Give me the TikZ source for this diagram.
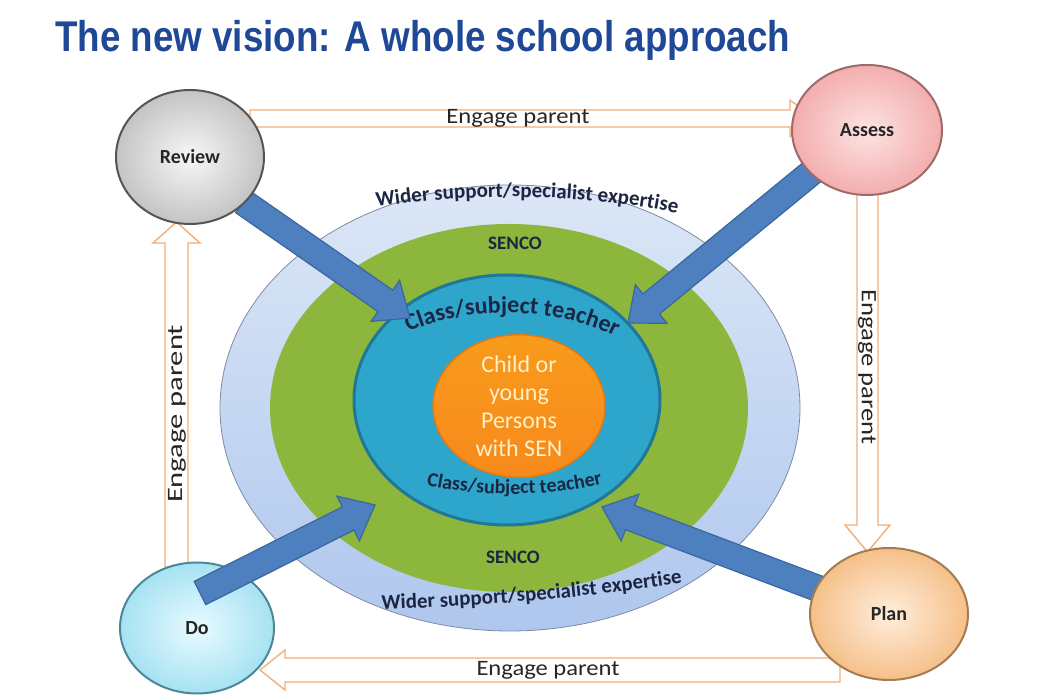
\documentclass[tikz,border=0pt]{standalone}
\usepackage{graphicx}
\usepackage{fontspec}
\setmainfont{Carlito}
\newfontfamily\titlefont{Liberation Sans}
\usetikzlibrary{calc,shapes.geometric,decorations.text}

\definecolor{titleblue}{HTML}{1F4896}
\definecolor{navy}{HTML}{1C2541}
\definecolor{hollowedge}{HTML}{F2AE78}
\definecolor{bluefill}{HTML}{4E7FBE}
\definecolor{blueedge}{HTML}{3A679E}
\definecolor{ringtop}{HTML}{DCE7F6}
\definecolor{ringbot}{HTML}{AFC7EE}
\definecolor{ringedge}{HTML}{7D8CA3}
\definecolor{greenfill}{HTML}{8CB63C}
\definecolor{tealfill}{HTML}{2EA6CB}
\definecolor{tealedge}{HTML}{1F7896}
\definecolor{orangefill}{HTML}{F7901E}
\definecolor{orangeedge}{HTML}{E27A12}
\definecolor{cream}{HTML}{FFF0C8}
\definecolor{revin}{HTML}{F7F7F7}
\definecolor{revout}{HTML}{C4C4C4}
\definecolor{revedge}{HTML}{555555}
\definecolor{assin}{HTML}{FDE3E3}
\definecolor{assout}{HTML}{F3AEAE}
\definecolor{assedge}{HTML}{9E6A6A}
\definecolor{doin}{HTML}{E8FBFF}
\definecolor{doout}{HTML}{A6E2F2}
\definecolor{doedge}{HTML}{4D8797}
\definecolor{planin}{HTML}{FFEEDC}
\definecolor{planout}{HTML}{F5C089}
\definecolor{planedge}{HTML}{A47B52}
\definecolor{labeltext}{HTML}{262626}

% block arrow: #1 style, #2 from, #3 to, #4 half body, #5 half head, #6 head length
\newcommand\blockarrow[6]{%
  \coordinate (ba-h) at ($(#3)!#6!(#2)$);
  \path[#1] ($(#2)!#4!90:(#3)$) -- ($(ba-h)!#4!90:(#3)$) -- ($(ba-h)!#5!90:(#3)$)
    -- (#3) -- ($(ba-h)!#5!-90:(#3)$) -- ($(ba-h)!#4!-90:(#3)$) -- ($(#2)!#4!-90:(#3)$) -- cycle;
}

\tikzset{
  hollow/.style={draw=hollowedge, fill=white, line width=1.4pt, line join=miter},
  fat/.style={draw=blueedge, fill=bluefill, line width=1.2pt, line join=miter},
  corner/.style={ellipse, inner sep=0pt, line width=2pt,
    font=\bfseries\fontsize{20}{20}\selectfont, text=labeltext},
  engage/.style={font=\fontsize{22}{22}\selectfont, text=labeltext, inner sep=0pt},
  ring/.style={ellipse, inner sep=0pt},
  senco/.style={font=\bfseries\fontsize{19}{19}\selectfont, text=navy, inner sep=0pt}
}

\begin{document}
\begin{tikzpicture}[x=1pt,y=1pt]
\useasboundingbox (0,0) rectangle (1039,695);
\fill[white] (0,0) rectangle (1039,695);

% title
\node[anchor=base west, text=titleblue, inner sep=0pt] (title) at (55,643)
  {\resizebox{735pt}{\height}{\titlefont\bfseries\fontsize{43}{48}\selectfont The new vision: A whole school approach}};

% concentric rings
\node[ring, minimum width=580pt, minimum height=446pt, top color=ringtop, bottom color=ringbot,
  draw=ringedge, line width=0.8pt] (wider) at (510,287) {};
\node[ring, minimum width=478pt, minimum height=368pt, fill=greenfill] (sencoring) at (509,287) {};
\node[ring, minimum width=306pt, minimum height=250pt, fill=tealfill, draw=tealedge, line width=3pt] (teacher) at (507,295) {};
\node[ring, minimum width=172pt, minimum height=142pt, top color=orangefill!90!yellow, bottom color=orangefill!95!red,
  draw=orangeedge, line width=1.5pt, align=center, text=cream,
  font=\fontsize{24}{28}\selectfont] (child) at (519,289) {Child or\\young\\Persons\\with SEN};

% curved texts
\path[decorate, decoration={text along path, text align=center,
  text={|\bfseries\fontsize{21}{21}\selectfont\color{navy}|Wider support/specialist expertise}}]
  (510,287) ++(117.5:437pt and 211pt) arc[start angle=117.5, end angle=57.5, x radius=437pt, y radius=211pt];
\path[decorate, decoration={text along path, text align=center,
  text={|\bfseries\fontsize{21}{21}\selectfont\color{navy}|Wider support/specialist expertise}}]
  (376,85) .. controls (480,89) and (580,96) .. (688,113);
\path[decorate, decoration={text along path, text align=center,
  text={|\bfseries\fontsize{24}{24}\selectfont\color{navy}|Class/subject teacher}}]
  (507,295) ++(137:158pt and 87pt) arc[start angle=137, end angle=38, x radius=158pt, y radius=87pt];
\path[decorate, decoration={text along path, text align=center,
  text={|\bfseries\fontsize{20}{20}\selectfont\color{navy}|Class/subject teacher}}]
  (512,295) ++(222:200pt and 94pt) arc[start angle=222, end angle=320, x radius=200pt, y radius=94pt];

\node[senco] (senco1) at (515,452) {SENCO};
\node[senco] (senco2) at (513,138) {SENCO};

% hollow "engage parent" arrows
\coordinate (t1) at (250,576.5); \coordinate (t2) at (818,576.5);
\coordinate (l1) at (176.5,128); \coordinate (l2) at (176.5,473);
\coordinate (r1) at (867.5,505); \coordinate (r2) at (867.5,143);
\coordinate (b1) at (840,25);   \coordinate (b2) at (260,25);
\blockarrow{hollow}{t1}{t2}{8.5pt}{18pt}{28pt}
\blockarrow{hollow}{l1}{l2}{11.5pt}{23.5pt}{21pt}
\blockarrow{hollow}{r1}{r2}{10.5pt}{22.5pt}{27pt}
\blockarrow{hollow}{b1}{b2}{12pt}{20pt}{25pt}

\node[engage] (lt) at (518,577) {\resizebox{143pt}{\height}{Engage parent}};
\node[engage] (lb) at (548,25) {\resizebox{143pt}{\height}{Engage parent}};
\node[engage, rotate=90] (ll) at (177,281) {\resizebox{178pt}{\height}{Engage parent}};
\node[engage, rotate=-90] (lr) at (867,328) {\resizebox{155pt}{\height}{Engage parent}};

% blue arrows (behind the circles)
\coordinate (ra) at (243,493); \coordinate (rb) at (410,377);
\coordinate (aa) at (817,527); \coordinate (ab) at (628,372);
\coordinate (pa) at (822,105); \coordinate (pb) at (602,188);
\coordinate (da) at (200,102); \coordinate (db) at (375,190);
\blockarrow{fat}{ra}{rb}{13pt}{25pt}{30pt}
\blockarrow{fat}{aa}{ab}{13pt}{25pt}{30pt}
\blockarrow{fat}{pa}{pb}{13pt}{25pt}{30pt}

% corner circles
\node[corner, minimum width=148pt, minimum height=134pt, inner color=revin, outer color=revout, draw=revedge] (review) at (190,538) {Review};
\node[corner, minimum width=150pt, minimum height=130pt, inner color=assin, outer color=assout, draw=assedge] (assess) at (867,565) {Assess};
\node[corner, minimum width=154pt, minimum height=131pt, inner color=doin, outer color=doout, draw=doedge] (do) at (197,67) {Do};
\node[corner, minimum width=158pt, minimum height=132pt, inner color=planin, outer color=planout, draw=planedge] (plan) at (889,81) {Plan};

% blue arrow over the Do circle
\blockarrow{fat}{da}{db}{13pt}{25pt}{30pt}
\end{tikzpicture}
\end{document}
